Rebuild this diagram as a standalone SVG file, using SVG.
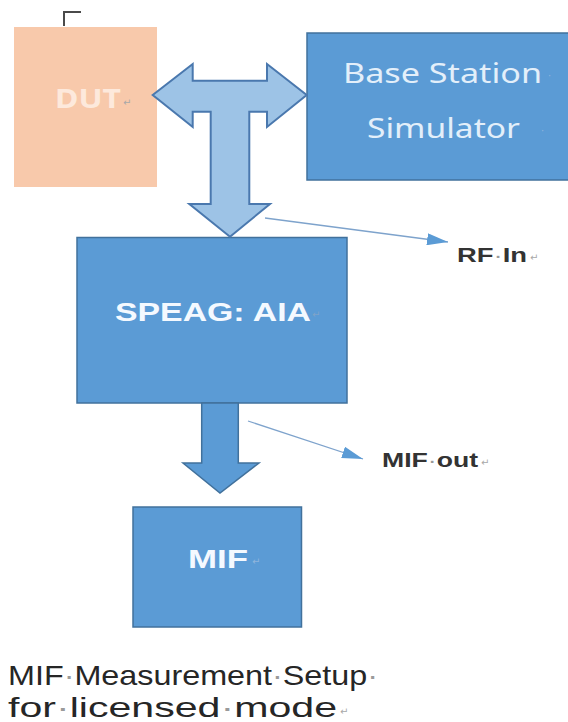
<svg xmlns="http://www.w3.org/2000/svg" width="568" height="722" viewBox="0 0 568 722">
<style>
.box{fill:#5b9bd5;stroke:#41719c;stroke-width:1.5}
.dut{fill:#f8c9ab}
.lt{font-family:"Noto Sans","Open Sans",sans-serif;font-size:27px;fill:#e3effa}
.bt{font-family:"Liberation Sans",Arial,sans-serif;font-weight:bold;fill:#f4f9ff}
.lab{font-family:"Liberation Sans",Arial,sans-serif;font-weight:bold;fill:#333333}
.cap{font-family:"Liberation Sans",Arial,sans-serif;font-size:28px;fill:#262626}
.fm{fill:#9a9a9a;font-weight:normal}
.rm{font-family:"DejaVu Sans",sans-serif;font-size:10px;fill:#a8a8a8}
.thin{stroke:#7ea3cc;stroke-width:1.3;fill:none}
.big{fill:#9dc3e6;stroke:#4a78ae;stroke-width:2;stroke-linejoin:miter}
.down{fill:#5b9bd5;stroke:#41719c;stroke-width:1.5}
</style>
<defs>
<marker id="ah" markerUnits="userSpaceOnUse" markerWidth="22" markerHeight="12" refX="21" refY="6" orient="auto">
<path d="M0,0 L21,6 L0,12 Z" fill="#5b9bd5"/>
</marker>
</defs>
<rect x="0" y="0" width="568" height="722" fill="#ffffff"/>
<path d="M64,26 V12 H81" fill="none" stroke="#4a4a4a" stroke-width="2"/>

<g id="node-dut">
<rect class="dut" x="14" y="27" width="143" height="160"/>
<text class="lt" x="55" y="108" textLength="66" lengthAdjust="spacingAndGlyphs" style="fill:#fde9dc;font-weight:bold">DUT</text>
<text class="rm" x="123" y="106">↵</text>
</g>

<g id="node-bss">
<rect class="box" x="307" y="33" width="266" height="147"/>
<text class="lt" x="343" y="83" textLength="199" lengthAdjust="spacingAndGlyphs">Base Station</text>
<text class="lt" x="367" y="138" textLength="153" lengthAdjust="spacingAndGlyphs">Simulator</text>
<text class="rm" x="548" y="79" style="fill:#8fb5dc">·</text>
<text class="rm" x="541" y="134" style="fill:#8fb5dc">·</text>
</g>

<g id="node-speag">
<rect class="box" x="77" y="237.5" width="270" height="165.5"/>
<text class="bt" x="115" y="321" font-size="26" textLength="196" lengthAdjust="spacingAndGlyphs">SPEAG: AIA</text>
<text class="rm" x="312" y="318" style="fill:#7fa3c8">↵</text>
</g>

<g id="node-mif">
<rect class="box" x="133" y="507" width="168.5" height="120"/>
<text class="bt" x="188" y="568" font-size="25" textLength="60" lengthAdjust="spacingAndGlyphs">MIF</text>
<text class="rm" x="252" y="565" style="fill:#8fb5dc">↵</text>
</g>

<g id="connectors">
<path class="big" d="M152.7,95 L192.7,64 L192.7,80.7 L267,80.7 L267,64 L306.7,95 L267,127 L267,111.7 L249.3,111.7 L249.3,204 L270,204 L230,236.7 L189.3,204 L210.7,204 L210.7,111.7 L192.7,111.7 L192.7,127 Z"/>
<path class="down" d="M201.7,403 L238.3,403 L238.3,463 L259,463 L220,493 L183,463 L201.7,463 Z"/>
<line class="thin" x1="265" y1="218" x2="448" y2="242" marker-end="url(#ah)"/>
<line class="thin" x1="248" y1="421" x2="363" y2="459" marker-end="url(#ah)"/>
</g>

<g id="labels">
<text class="lab" x="457" y="262" font-size="20" textLength="70" lengthAdjust="spacingAndGlyphs">RF<tspan class="fm">·</tspan>In</text>
<text class="rm" x="530" y="261">↵</text>
<text class="lab" x="382" y="467" font-size="21" textLength="96" lengthAdjust="spacingAndGlyphs">MIF<tspan class="fm">·</tspan>out</text>
<text class="rm" x="481" y="466">↵</text>
<text class="cap" x="8" y="685" textLength="370" lengthAdjust="spacingAndGlyphs">MIF<tspan class="fm">·</tspan>Measurement<tspan class="fm">·</tspan>Setup<tspan class="fm">·</tspan></text>
<text class="cap" x="8" y="717" textLength="329" lengthAdjust="spacingAndGlyphs">for<tspan class="fm">·</tspan>licensed<tspan class="fm">·</tspan>mode</text>
<text class="rm" x="340" y="715">↵</text>
</g>
</svg>
